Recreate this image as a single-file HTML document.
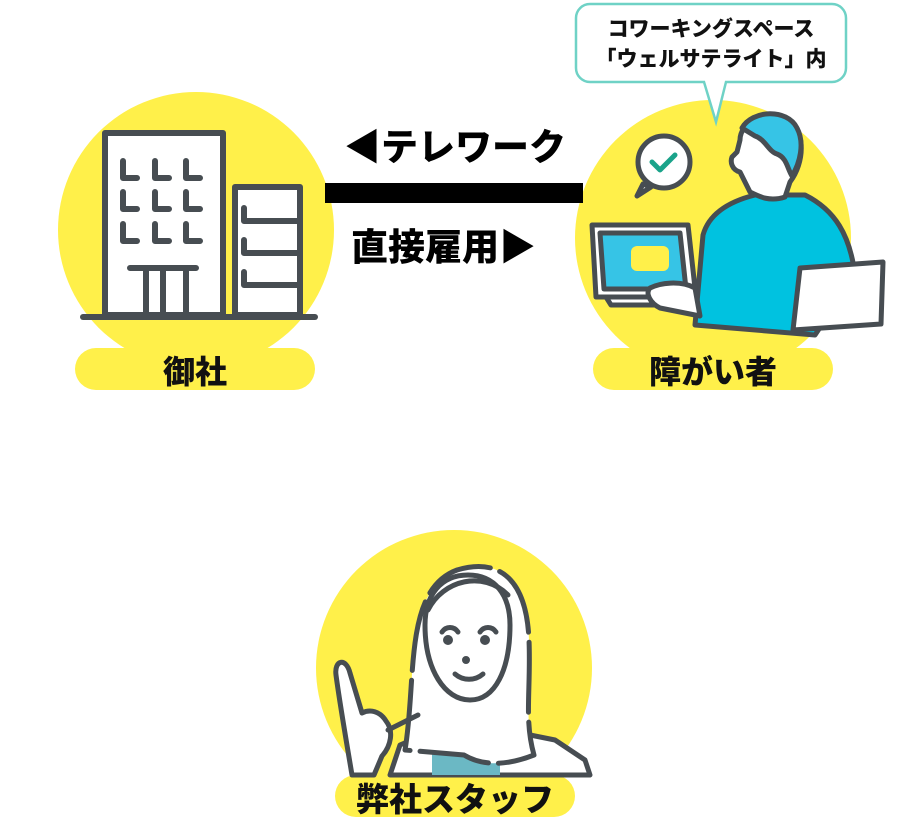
<!DOCTYPE html>
<html><head><meta charset="utf-8"><style>
html,body{margin:0;padding:0;background:#fff;width:900px;height:835px;overflow:hidden}
svg{display:block}
text{font-family:"Liberation Sans","Noto Sans CJK JP",sans-serif;font-weight:900}
</style></head><body>
<svg width="900" height="835" viewBox="0 0 900 835" xmlns="http://www.w3.org/2000/svg">
<circle cx="196" cy="230" r="138" fill="#fff04a"/>
<circle cx="713" cy="238" r="138" fill="#fff04a"/>
<circle cx="454" cy="668" r="138" fill="#fff04a"/>

<g stroke="#474d52" stroke-width="6" stroke-linecap="round" stroke-linejoin="round" fill="#fff">
<rect x="105" y="133" width="118" height="182"/>
<rect x="235" y="187" width="65" height="128"/>
<path fill="none" d="M123 161v17h14M155 161v17h14M186 161v17h14M123 192v17h14M155 192v17h14M186 192v17h14M123 224v17h14M155 224v17h14M186 224v17h14"/>
<path fill="none" d="M130 268h66M146 270v45M163 270v45M186 270v45"/>
<path fill="none" d="M244 208v13h54M244 240v13h54M244 272v13h54"/>
<path d="M83 317h232"/>
</g>

<rect x="75" y="348" width="240" height="42" rx="21" fill="#fff04a"/>
<text x="195" y="383" font-size="32" text-anchor="middle" fill="#111">御社</text>
<rect x="593" y="348" width="240" height="42" rx="21" fill="#fff04a"/>
<text x="713" y="383" font-size="32" text-anchor="middle" fill="#111">障がい者</text>
<rect x="335" y="775" width="240" height="42" rx="21" fill="#fff04a"/>
<text x="455" y="811" font-size="33" text-anchor="middle" fill="#111">弊社スタッフ</text>

<rect x="325" y="183" width="258" height="20" fill="#000"/>
<text x="344" y="160" font-size="37" fill="#000">◀テレワーク</text>
<text x="351" y="260" font-size="37" fill="#000">直接雇用▶</text>

<path d="M590 4h242a14 14 0 0 1 14 14v50a14 14 0 0 1-14 14h-106l-10 40-12-40h-114a14 14 0 0 1-14-14v-50a14 14 0 0 1 14-14z" fill="#fff" stroke="#6fd2c6" stroke-width="2.5"/>
<text x="711" y="36" font-size="21" text-anchor="middle" fill="#111">コワーキングスペース</text>
<text x="711" y="66" font-size="21" text-anchor="middle" fill="#111">「ウェルサテライト」内</text>

<g stroke="#474d52" stroke-width="5" stroke-linecap="round" stroke-linejoin="round">
<path d="M643 184l-6 12 14-9z" fill="#fff"/>
<circle cx="664" cy="162" r="26" fill="#fff"/>
<path d="M652 162l8 8 15-15" stroke="#1aa38a" fill="none"/>
<path d="M755 195c-20 5-45 15-52 40l-8 90 120 10 40-60c-5-40-20-65-50-80z" fill="#00c2e0"/>
<path d="M740 140c0-20 30-30 50-18 15 10 15 40 0 60l-5 15c-15 5-25 0-35-5l-10-20c-8-2-10-10-8-15l5-5z" fill="#fff"/>
<path d="M742 128c10-18 45-20 55 0 8 15 3 35-5 48-5-8-5-18-15-22-8-2-12-15-22-18z" fill="#36c4e6"/>
<path d="M592 225h96l8 72h-100z" fill="#fff"/>
<path d="M600 233h80l6 56h-82z" fill="#36c4e6"/>
<rect x="631" y="246" width="38" height="25" rx="6" fill="#fff04a" stroke="none"/>
<path d="M606 297h85v8h-80z" fill="#fff"/>
<path d="M650 288c10-5 30-8 45 0l5 28-40-8c-10-5-15-15-10-20z" fill="#fff"/>
<path d="M800 268l83-6-2 62-88 6z" fill="#fff"/>
</g>

<g stroke="#474d52" stroke-width="5" stroke-linecap="round" stroke-linejoin="round">
<path d="M390 775l10-30 35-15 70 0 50 10 30 20 5 15z" fill="#fff"/>
<path d="M432 745h68v30h-68z" fill="#6bb8c4" stroke="none"/>
<path d="M405 750c12-70 -2-160 52-180 50-15 70 20 72 70 2 50-5 80 5 115-25 10-50 12-70 0z" fill="#fff" stroke-dasharray="70 10"/>
<path d="M425 625c0 45 20 75 45 75s40-30 40-75c0-30-15-50-42-50s-43 20-43 50z" fill="#fff"/>
<path d="M428 610c15-30 55-40 80-15" fill="none"/>
<path d="M442 632c4-6 12-6 16 0M480 632c4-6 12-6 16 0" fill="none"/>
<circle cx="448" cy="640" r="2.5" fill="#474d52"/><circle cx="485" cy="640" r="2.5" fill="#474d52"/>
<circle cx="466" cy="660" r="1.5" fill="#474d52"/>
<path d="M455 674c8 7 20 7 28 0" fill="none"/>
<path d="M352 775c-5-30-12-70-16-100-2-15 10-18 14-2l12 40c8-4 18-2 24 8 8 10 5 25-4 35l-8 19z" fill="#fff"/>
<path d="M388 730l30-15" fill="none"/>
</g>
</svg>
</body></html>
